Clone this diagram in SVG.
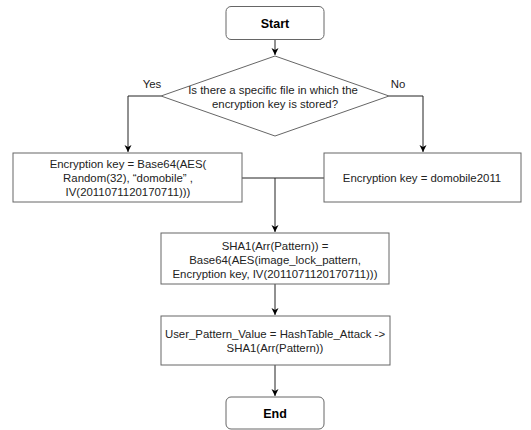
<svg xmlns="http://www.w3.org/2000/svg" width="531" height="430" viewBox="0 0 531 430">
<defs>
<marker id="ah" markerWidth="8" markerHeight="8" refX="7" refY="4" orient="auto" markerUnits="userSpaceOnUse">
<path d="M0,0.5 L7,4 L0,7.5 L2,4 Z" fill="#000"/>
</marker>
<style>
.box{fill:#fff;stroke:#666;stroke-width:1}
.t{font-family:"Liberation Sans",Arial,sans-serif;font-size:11.4px;fill:#222;text-anchor:middle}
.b{font-weight:bold;font-size:12.5px;fill:#000}
.c{fill:none;stroke:#222;stroke-width:1}
</style>
</defs>
<rect width="531" height="430" fill="#fff"/>
<g id="connectors">
<path class="c" d="M275,39 V55" marker-end="url(#ah)"/>
<path class="c" d="M161,96 H128 V152" marker-end="url(#ah)"/>
<path class="c" d="M389,96 H423 V152" marker-end="url(#ah)"/>
<path class="c" d="M242,178 H324"/>
<path class="c" d="M275,178 V232" marker-end="url(#ah)"/>
<path class="c" d="M275,284 V315" marker-end="url(#ah)"/>
<path class="c" d="M275,365 V396" marker-end="url(#ah)"/>
<text class="t" x="152" y="88">Yes</text>
<text class="t" x="398" y="88">No</text>
</g>
<g id="start">
<rect class="box" x="226" y="6.5" width="98" height="33" rx="5"/>
<text class="t b" x="275" y="27.5">Start</text>
</g>
<g id="decision">
<path class="box" d="M275,56 L389,96 L275,136 L161,96 Z"/>
<text class="t" x="273" y="94">Is there a specific file in which the</text>
<text class="t" x="275" y="108">encryption key is stored?</text>
</g>
<g id="keyYes">
<rect class="box" x="13" y="153" width="229" height="49"/>
<text class="t" x="128" y="168">Encryption key = Base64(AES(</text>
<text class="t" x="128" y="182">Random(32), “domobile” ,</text>
<text class="t" x="128" y="196">IV(2011071120170711)))</text>
</g>
<g id="keyNo">
<rect class="box" x="324" y="153" width="197" height="49"/>
<text class="t" x="422" y="182">Encryption key = domobile2011</text>
</g>
<g id="sha">
<rect class="box" x="161" y="233" width="228" height="51"/>
<text class="t" x="275" y="250">SHA1(Arr(Pattern)) =</text>
<text class="t" x="275" y="264">Base64(AES(image_lock_pattern,</text>
<text class="t" x="275" y="278">Encryption key, IV(2011071120170711)))</text>
</g>
<g id="user">
<rect class="box" x="161" y="316" width="229" height="49"/>
<text class="t" x="275" y="338">User_Pattern_Value = HashTable_Attack -&gt;</text>
<text class="t" x="275" y="352">SHA1(Arr(Pattern))</text>
</g>
<g id="end">
<rect class="box" x="226" y="397" width="98" height="32" rx="5"/>
<text class="t b" x="275" y="418">End</text>
</g>
</svg>
